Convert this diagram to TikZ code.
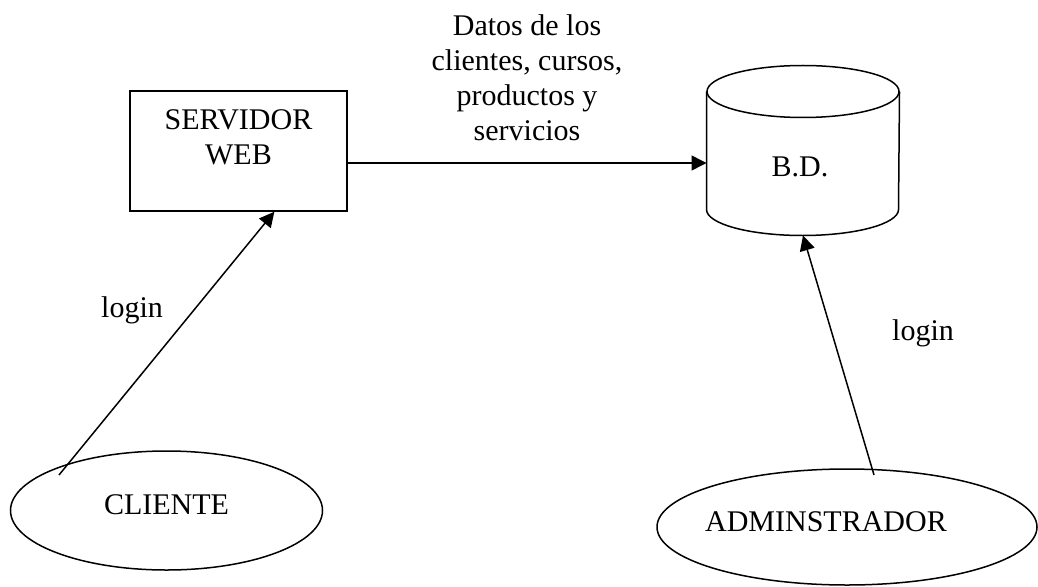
\documentclass[tikz,border=0pt]{standalone}
\usepackage{fontspec}
\setmainfont{Liberation Serif}
\usepackage{tikz}
\usetikzlibrary{calc,arrows.meta,shapes.geometric}

\begin{document}
\begin{tikzpicture}[x=0.4pt,y=-0.4pt,
  font=\fontsize{12}{14}\selectfont,
  caja/.style={draw,line width=0.6pt,minimum width=86.8pt,minimum height=48pt},
  actor/.style={draw,ellipse,line width=0.6pt,text depth=4.5pt},
  flecha/.style={line width=0.6pt,-{Triangle[length=6pt,width=6pt]}}]

\useasboundingbox (0,0) rectangle (1038,586);

\node[caja] (servidor) at (238.5,151) {};
\node[align=center] (servtxt) at (238.5,137) {SERVIDOR\\WEB};

% base de datos
\node[minimum width=76.8pt,minimum height=67.6pt,inner sep=0pt] (bd) at (803,150.5) {};
\draw[line width=0.6pt] ([yshift=-10.4pt]bd.north) ellipse [x radius=38.4pt,y radius=10.4pt];
\draw[line width=0.6pt] ([yshift=-10.4pt]bd.north west) -- ([yshift=10.4pt]bd.south west)
  arc [start angle=180,end angle=360,x radius=38.4pt,y radius=10.4pt] -- ([yshift=-10.4pt]bd.north east);
\node (bdtxt) at (800,167) {B.D.};

\node[actor,minimum width=124.8pt,minimum height=47.6pt] (cliente) at (166.5,510.5) {CLIENTE};
\node[actor,minimum width=152pt,minimum height=46.4pt] (admin) at (847,527) {};
\node (admintxt) at (826,522) {ADMINSTRADOR};

\node[align=center] (datos) at (527,78) {Datos de los\\clientes, cursos,\\productos y\\servicios};
\node (login1) at (132,310) {login};
\node (login2) at (923,333) {login};

\coordinate (c1) at (59,475);
\coordinate (a1) at (874,475);

\draw[flecha] ([yshift=-4.8pt]servidor.east) -- ([yshift=-4.8pt]servidor.east -| bd.west);
\draw[flecha] (c1) -- ($(servidor.south west)!0.664!(servidor.south east)$);
\draw[flecha] (a1) -- (bd.south);
\end{tikzpicture}
\end{document}
